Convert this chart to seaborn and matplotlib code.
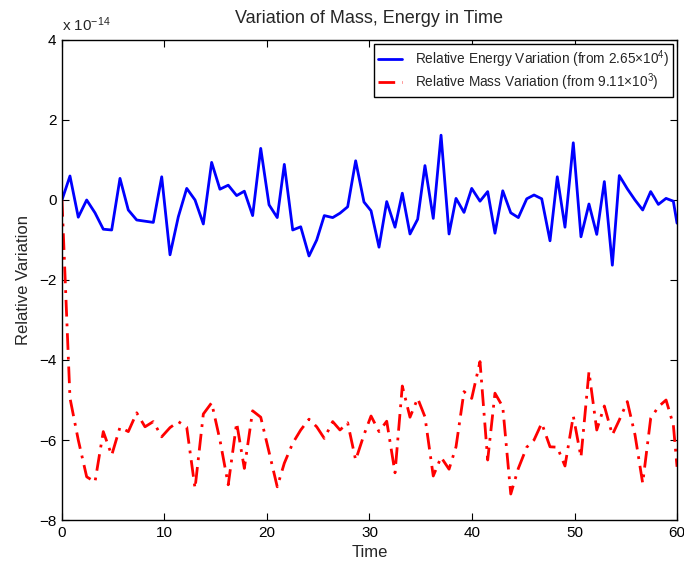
#!/usr/bin/env python3
# -*- coding: utf-8 -*-

import seaborn as sns
import matplotlib.pyplot as plt
import pandas as pd

# sample times (solver steps are slightly uneven)
time = [0.0, 0.78, 1.59, 2.41, 3.22, 4.03, 4.85, 5.66, 6.47, 7.29,
        8.10, 8.91, 9.73, 10.54, 11.35, 12.17, 12.98, 13.79, 14.60, 15.41,
        16.22, 17.04, 17.79, 18.60, 19.39, 20.20, 21.00, 21.69, 22.51, 23.29,
        24.10, 24.85, 25.59, 26.41, 27.12, 27.87, 28.65, 29.46, 30.15, 30.93,
        31.68, 32.49, 33.20, 33.95, 34.70, 35.41, 36.22, 36.98, 37.76, 38.44,
        39.22, 39.97, 40.78, 41.53, 42.24, 43.00, 43.78, 44.52, 45.34, 46.05,
        46.80, 47.61, 48.32, 49.07, 49.88, 50.63, 51.41, 52.17, 52.91, 53.69,
        54.37, 55.15, 55.90, 56.65, 57.43, 58.18, 58.93, 59.64, 60.0]

# relative variations, in units of 1e-14
energy_var = [0.0, 0.6, -0.43, 0.0, -0.32, -0.73, -0.75, 0.54, -0.25, -0.5,
              -0.53, -0.56, 0.58, -1.37, -0.42, 0.29, 0.0, -0.6, 0.94, 0.27,
              0.37, 0.11, 0.22, -0.39, 1.29, -0.12, -0.44, 0.89, -0.75, -0.67,
              -1.4, -1.0, -0.39, -0.44, -0.33, -0.17, 0.98, -0.05, -0.27, -1.18,
              -0.04, -0.68, 0.17, -0.85, -0.48, 0.86, -0.46, 1.62, -0.85, 0.04,
              -0.31, 0.29, -0.03, 0.21, -0.83, 0.23, -0.32, -0.44, 0.03, 0.125,
              0.03, -1.02, 0.58, -0.68, 1.43, -0.92, -0.1, -0.86, 0.46, -1.63,
              0.61, 0.28, 0.0, -0.25, 0.21, -0.11, 0.04, -0.03, -0.58]

mass_var = [0.0, -4.95, -6.0, -6.92, -7.05, -5.79, -6.38, -5.68, -5.79, -5.32,
            -5.67, -5.54, -5.92, -5.69, -5.54, -5.68, -7.21, -5.35, -5.07, -6.0,
            -7.12, -5.57, -6.71, -5.27, -5.43, -6.3, -7.17, -6.58, -6.08, -5.75,
            -5.48, -5.67, -5.96, -5.54, -5.75, -5.57, -6.5, -5.87, -5.4, -5.79,
            -5.53, -6.82, -4.65, -5.43, -4.96, -5.42, -6.9, -6.43, -6.73, -6.17,
            -4.79, -4.96, -4.04, -6.5, -4.83, -5.17, -7.35, -6.71, -6.18, -6.0,
            -5.58, -6.17, -6.18, -6.65, -5.4, -6.43, -4.29, -5.75, -5.15, -5.87,
            -5.5, -5.04, -5.87, -7.08, -5.46, -5.17, -5.0, -5.62, -6.67]

energy_label = r'Relative Energy Variation (from 2.65$\times$10$^{4}$)'
mass_label = r'Relative Mass Variation (from 9.11$\times$10$^{3}$)'

data = pd.DataFrame({'time': time, 'energy': energy_var, 'mass': mass_var})

sns.set_theme(style="ticks")
plt.rcParams['font.family'] = ['Liberation Sans', 'DejaVu Sans']
plt.rcParams['mathtext.fontset'] = 'custom'
plt.rcParams['mathtext.rm'] = 'Liberation Sans'
plt.rcParams['mathtext.it'] = 'Liberation Sans:italic'

fig = plt.figure(figsize=(6.84, 5.68), dpi=100)
ax = fig.add_axes([0.0906, 0.0845, 0.8992, 0.8451])

sns.lineplot(x='time', y='energy', data=data, ax=ax, color=(0, 0, 1),
             linewidth=2.0, label=energy_label)
sns.lineplot(x='time', y='mass', data=data, ax=ax, color=(1, 0, 0),
             linewidth=2.0, dashes=False, label=mass_label)
ax.lines[1].set_dashes([6, 2.5, 1, 2.5])

ax.set(xlim=(0, 60), ylim=(-8, 4), xticks=range(0, 61, 10), yticks=range(-8, 5, 2))
ax.tick_params(direction='in', top=True, right=True, length=5, width=0.8,
               labelsize=11, colors='black', pad=4)
for s in ax.spines.values():
    s.set_color('black')
    s.set_linewidth(1.0)

ax.set_title("Variation of Mass, Energy in Time", fontsize=13, pad=12)
ax.set_xlabel("Time", fontsize=12)
ax.set_ylabel("Relative Variation", fontsize=12, labelpad=6)
ax.text(0.0, 1.012, r'x 10$^{-14}$', transform=ax.transAxes, fontsize=11,
        ha='left', va='bottom')

leg = ax.legend(loc='upper right', fontsize=9.8, handlelength=1.8, borderaxespad=0.3,
                labelspacing=0.1, borderpad=0.3, handletextpad=0.9,
                frameon=True, fancybox=False, edgecolor='black', framealpha=1)
leg.get_frame().set_linewidth(1.0)

plt.savefig("out.png", dpi=100)
